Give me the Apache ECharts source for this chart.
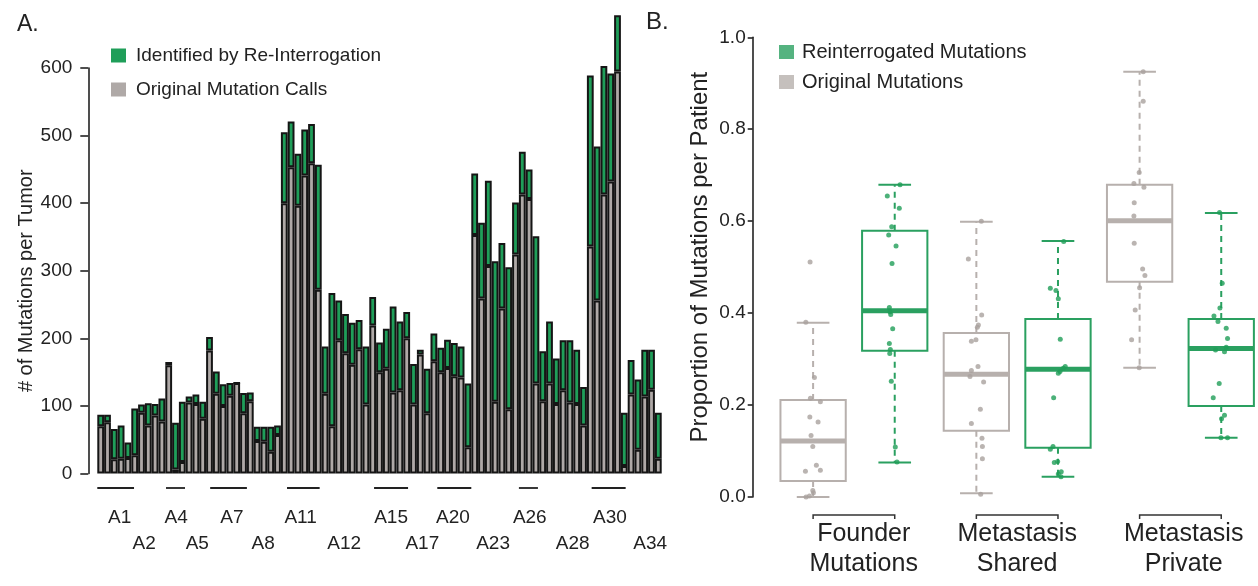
<!DOCTYPE html>
<html><head><meta charset="utf-8">
<script src="https://cdn.jsdelivr.net/npm/echarts@6/dist/echarts.min.js"></script>
<style>html,body{margin:0;padding:0;background:#fff}#c{width:1258px;height:586px}</style>
</head><body><div id="c"></div>
<script>
// ---------- Panel A data ----------
const originalCalls = [70,76,21,22,23,27,90,71,86,77,160,6,17,105,103,81,182,118,100,115,134,89,107,48,47,32,57,
  400,453,396,441,459,272,118,70,197,178,161,184,102,219,150,155,120,123,200,102,176,89,166,150,156,144,142,39,
  353,259,307,106,244,95,324,413,406,133,107,133,103,123,105,103,71,336,256,413,432,595,11,117,35,114,124,22];
const reinterrogation = [17,11,45,49,23,69,12,33,17,34,5,69,89,9,14,25,20,33,32,19,0,30,13,21,22,37,14,
  105,68,77,68,58,185,70,197,59,58,62,43,86,42,44,59,127,102,39,60,7,66,41,36,42,49,46,94,
  91,112,126,208,97,210,77,63,44,218,74,92,67,74,92,80,57,253,228,190,160,83,79,51,104,69,59,68];
const tumors = originalCalls.map((_, i) => 'T' + (i + 1));
const yTicksA = [0,100,200,300,400,500,600];

const patientNames  = ['A1','A2','A4','A5','A7','A8','A11','A12','A15','A17','A20','A23','A26','A28','A30','A34'];
const patientCenter = [2.8,6.4,11.1,14.2,19.3,23.9,29.4,35.8,42.7,47.3,51.8,57.7,63.1,69.4,74.9,80.8]; // in bar-index units
const patientSpan   = [[-0.5,4.9],null,[9.6,12.4],null,[16.1,21.5],null,[27.4,32.2],null,[40.2,45.2],null,[49.5,54.5],null,[61.5,64.3],null,[72.2,77.2],null];

// ---------- Panel B data ----------
const groupNames = [['Founder','Mutations'],['Metastasis','Shared'],['Metastasis','Private']];
const groupLabelPos = [0.62, 2.5, 4.54];
// [lower whisker, Q1, median, Q3, upper whisker]
const boxFounderOriginal = [0.0, 0.035, 0.122, 0.211, 0.379];
const boxFounderReint    = [0.075, 0.318, 0.405, 0.579, 0.679];
const boxSharedOriginal  = [0.008, 0.144, 0.267, 0.357, 0.599];
const boxSharedReint     = [0.044, 0.107, 0.278, 0.387, 0.557];
const boxPrivateOriginal = [0.281, 0.468, 0.601, 0.679, 0.925];
const boxPrivateReint    = [0.129, 0.198, 0.323, 0.387, 0.618];
// points: [horizontal jitter (box units), proportion]
const ptsFounderOriginal = [[-0.037,0.511],[-0.089,0.380],[0.016,0.260],[-0.033,0.215],[0.089,0.207],[-0.040,0.174],[0.061,0.163],[-0.025,0.134],[-0.004,0.110],[0.040,0.069],[-0.094,0.056],[0.089,0.058],[-0.004,0.014],[0.004,0.009],[-0.045,0.002],[-0.086,0.0]];
const ptsFounderReint = [[0.065,0.679],[-0.091,0.655],[0.056,0.628],[-0.037,0.588],[-0.074,0.570],[0.016,0.546],[-0.033,0.508],[-0.066,0.412],[-0.058,0.403],[-0.049,0.397],[-0.025,0.366],[-0.066,0.334],[-0.054,0.321],[-0.061,0.312],[-0.042,0.252],[0.007,0.109],[0.028,0.076]];
const ptsSharedOriginal = [[0.061,0.600],[-0.098,0.518],[0.065,0.396],[0.025,0.374],[0.012,0.369],[-0.061,0.339],[-0.005,0.342],[0.020,0.284],[-0.061,0.275],[-0.078,0.262],[0.089,0.250],[0.049,0.191],[-0.061,0.160],[0.069,0.128],[0.074,0.110],[0.074,0.083],[0.053,0.006]];
const ptsSharedReint = [[0.070,0.556],[-0.094,0.454],[-0.025,0.449],[0.004,0.431],[0.028,0.343],[0.089,0.284],[0.065,0.280],[0.004,0.269],[0.025,0.273],[-0.053,0.216],[-0.061,0.110],[-0.094,0.104],[-0.045,0.075],[-0.004,0.077],[0.040,0.055],[0.037,0.044],[0.004,0.050]];
const ptsPrivateOriginal = [[0.044,0.925],[0.044,0.861],[-0.005,0.706],[-0.070,0.682],[0.053,0.674],[-0.066,0.640],[-0.070,0.611],[-0.066,0.552],[0.037,0.496],[0.065,0.482],[0.0,0.455],[-0.054,0.407],[-0.098,0.342],[-0.005,0.281]];
const ptsPrivateReint = [[-0.021,0.619],[0.012,0.465],[-0.016,0.411],[-0.089,0.394],[-0.040,0.382],[0.061,0.367],[0.077,0.345],[-0.070,0.320],[0.040,0.316],[0.061,0.326],[-0.025,0.247],[-0.098,0.216],[0.040,0.178],[0.004,0.170],[-0.004,0.129],[0.077,0.129]];

const boxes = [boxFounderOriginal, boxFounderReint, boxSharedOriginal, boxSharedReint, boxPrivateOriginal, boxPrivateReint];
const ptsOriginal = [ptsFounderOriginal, ptsSharedOriginal, ptsPrivateOriginal];
const ptsReint = [ptsFounderReint, ptsSharedReint, ptsPrivateReint];

// ---------- styling ----------
const FONT = '"Liberation Sans", Arial, Helvetica, sans-serif';
const INK = '#222222';
const BAR_GREEN = '#1f9e59', BAR_GREY = '#afa9a7';
const BOX_GREEN = '#2aa060', BOX_GREY = '#b7b0ad';
const PT_GREEN = '#1f9d58', PT_GREY = '#a9a19e';

const chart = echarts.init(document.getElementById('c'));

const boxData = boxes.map((s, i) => [i, s[0], s[1], s[2], s[3], s[4], i % 2]);
const origPts = [], reintPts = [];
ptsOriginal.forEach((g, gi) => g.forEach(p => origPts.push([gi * 2 + p[0], p[1]])));
ptsReint.forEach((g, gi) => g.forEach(p => reintPts.push([gi * 2 + 1 + p[0], p[1]])));

const option = {
  animation: false,
  title: [
    {text: 'A.', left: 12, top: 8, textStyle: {fontFamily: FONT, fontSize: 23, fontWeight: 'normal', color: INK}},
    {text: 'B.', left: 641, top: 5, textStyle: {fontFamily: FONT, fontSize: 24, fontWeight: 'normal', color: INK}}
  ],
  legend: [
    {orient: 'vertical', left: 111, top: 46, padding: 0, itemWidth: 15, itemHeight: 14, itemGap: 15,
     selectedMode: false, icon: 'rect',
     data: [{name: 'Identified by Re-Interrogation', itemStyle: {borderWidth: 0}},
            {name: 'Original Mutation Calls', itemStyle: {borderWidth: 0}}],
     textStyle: {fontFamily: FONT, fontSize: 19, color: INK, padding: [0, 0, 0, 5]}},
    {orient: 'vertical', left: 779, top: 42, padding: 0, itemWidth: 15, itemHeight: 14, itemGap: 10,
     selectedMode: false, icon: 'rect',
     data: [{name: 'Reinterrogated Mutations', itemStyle: {color: BOX_GREEN}},
            {name: 'Original Mutations', itemStyle: {color: BOX_GREY}}],
     textStyle: {fontFamily: FONT, fontSize: 20, color: INK, padding: [0, 0, 0, 3]}}
  ],
  grid: [
    {left: 97.3, top: 68, width: 564.4, height: 405.5},
    {left: 752.7, top: 37.3, width: 502, height: 459.7}
  ],
  xAxis: [
    {type: 'category', gridIndex: 0, data: tumors, show: false},
    {type: 'value', gridIndex: 0, min: -0.5, max: 82.5, show: false},
    {type: 'value', gridIndex: 1, min: -0.74, max: 5.41, show: false}
  ],
  yAxis: [
    {type: 'value', gridIndex: 0, min: 0, max: 600, interval: 100, offset: 9,
     axisLine: {show: true, onZero: false, lineStyle: {color: INK, width: 1.6}},
     axisTick: {show: true, length: 8, lineStyle: {color: INK, width: 1.6}},
     axisLabel: {margin: 16, fontFamily: FONT, fontSize: 19, color: INK,
                 formatter: v => yTicksA.includes(v) ? String(v) : ''},
     splitLine: {show: false},
     name: '# of Mutations per Tumor', nameLocation: 'middle', nameRotate: 90, nameGap: 52, nameMoveOverlap: false,
     nameTextStyle: {fontFamily: FONT, fontSize: 20, color: INK, padding: [0, 20, 0, 0]}},
    {type: 'value', gridIndex: 1, min: 0, max: 1, interval: 0.2,
     axisLine: {show: true, onZero: false, lineStyle: {color: INK, width: 1.6}},
     axisTick: {show: true, length: 5, lineStyle: {color: INK, width: 1.6}},
     axisLabel: {margin: 7, fontFamily: FONT, fontSize: 19, color: INK, formatter: v => v.toFixed(1)},
     splitLine: {show: false},
     name: 'Proportion of Mutations per Patient', nameLocation: 'middle', nameRotate: 90, nameGap: 40, nameMoveOverlap: false,
     nameTextStyle: {fontFamily: FONT, fontSize: 24, color: INK, padding: [0, 0, 0, 20]}}
  ],
  series: [
    {name: 'Original Mutation Calls', type: 'bar', stack: 'muts', xAxisIndex: 0, yAxisIndex: 0,
     data: originalCalls, barCategoryGap: '0%', clip: false,
     itemStyle: {color: BAR_GREY, borderColor: '#151515', borderWidth: 2}},
    {name: 'Identified by Re-Interrogation', type: 'bar', stack: 'muts', xAxisIndex: 0, yAxisIndex: 0,
     data: reinterrogation, barCategoryGap: '0%', clip: false,
     itemStyle: {color: BAR_GREEN, borderColor: '#151515', borderWidth: 2}},
    {type: 'custom', xAxisIndex: 1, yAxisIndex: 0, clip: false, silent: true,
     data: patientCenter.map(c => [c, 0]),
     renderItem: (params, api) => {
       const i = params.dataIndex;
       const c = api.coord([api.value(0), 0]);
       const row = i % 2;
       const kids = [{type: 'text', x: c[0], y: c[1] + (row ? 70 : 44),
         style: {text: patientNames[i], fontFamily: FONT, fontSize: 19, fill: INK, align: 'center', verticalAlign: 'middle'}}];
       const sp = patientSpan[i];
       if (sp) {
         const a = api.coord([sp[0], 0]), b = api.coord([sp[1], 0]);
         kids.push({type: 'line', shape: {x1: a[0], y1: a[1] + 14.5, x2: b[0], y2: b[1] + 14.5},
           style: {stroke: INK, lineWidth: 1.8}});
       }
       return {type: 'group', children: kids};
     }},
    {type: 'custom', xAxisIndex: 2, yAxisIndex: 1, clip: false, silent: true,
     data: boxData,
     renderItem: (params, api) => {
       const x = api.value(0);
       const col = api.value(6) ? BOX_GREEN : BOX_GREY;
       const half = api.size([0.8, 0])[0] / 2;
       const cap = half / 2;
       const cx = api.coord([x, 0])[0];
       const yLo = api.coord([x, api.value(1)])[1];
       const yQ1 = api.coord([x, api.value(2)])[1];
       const yMed = api.coord([x, api.value(3)])[1];
       const yQ3 = api.coord([x, api.value(4)])[1];
       const yHi = api.coord([x, api.value(5)])[1];
       const dash = {stroke: col, lineWidth: 2, lineDash: [6, 5]};
       const solid = {stroke: col, lineWidth: 2};
       return {type: 'group', children: [
         {type: 'line', shape: {x1: cx, y1: yQ3, x2: cx, y2: yHi}, style: dash},
         {type: 'line', shape: {x1: cx, y1: yQ1, x2: cx, y2: yLo}, style: dash},
         {type: 'line', shape: {x1: cx - cap, y1: yHi, x2: cx + cap, y2: yHi}, style: solid},
         {type: 'line', shape: {x1: cx - cap, y1: yLo, x2: cx + cap, y2: yLo}, style: solid},
         {type: 'rect', shape: {x: cx - half, y: yQ3, width: half * 2, height: yQ1 - yQ3},
          style: {stroke: col, lineWidth: 2, fill: 'rgba(0,0,0,0)'}},
         {type: 'line', shape: {x1: cx - half, y1: yMed, x2: cx + half, y2: yMed}, style: {stroke: col, lineWidth: 5}}
       ]};
     }},
    {type: 'custom', xAxisIndex: 2, yAxisIndex: 1, clip: false, silent: true,
     data: groupLabelPos.map(p => [p, 0]),
     renderItem: (params, api) => {
       const g = params.dataIndex;
       const a = api.coord([g * 2, 0]), b = api.coord([g * 2 + 1, 0]);
       const lx = api.coord([api.value(0), 0])[0];
       const y = a[1] + 18;
       return {type: 'group', children: [
         {type: 'polyline', shape: {points: [[a[0], y + 4], [a[0], y], [b[0], y], [b[0], y + 4]]},
          style: {stroke: '#333', lineWidth: 1.5, fill: null}},
         {type: 'text', x: lx, y: a[1] + 37, style: {text: groupNames[g][0], fontFamily: FONT, fontSize: 25, fill: INK, align: 'center', verticalAlign: 'middle'}},
         {type: 'text', x: lx, y: a[1] + 67, style: {text: groupNames[g][1], fontFamily: FONT, fontSize: 25, fill: INK, align: 'center', verticalAlign: 'middle'}}
       ]};
     }},
    {name: 'Original Mutations', type: 'scatter', xAxisIndex: 2, yAxisIndex: 1, clip: false,
     data: origPts, symbolSize: 5, itemStyle: {color: PT_GREY}, silent: true},
    {name: 'Reinterrogated Mutations', type: 'scatter', xAxisIndex: 2, yAxisIndex: 1, clip: false,
     data: reintPts, symbolSize: 5, itemStyle: {color: PT_GREEN}, silent: true}
  ]
};
chart.setOption(option);
</script>
</body></html>
